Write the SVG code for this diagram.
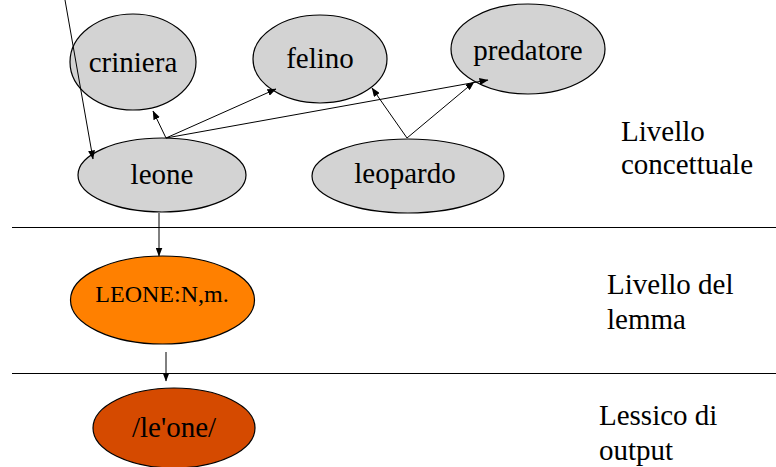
<svg xmlns="http://www.w3.org/2000/svg" width="776" height="467" viewBox="0 0 776 467">
<defs>
<marker id="ah" markerWidth="9" markerHeight="7" refX="8.5" refY="3.5" orient="auto" markerUnits="userSpaceOnUse">
<path d="M0,0 L9,3.5 L0,7 Z" fill="#000"/>
</marker>
</defs>
<style>
.n ellipse{fill:#d3d3d3;stroke:#000;stroke-width:1.2}
.t{font-family:'Liberation Serif','DejaVu Serif',serif;font-size:29px;fill:#000;text-anchor:middle}
.sm{font-size:24px}
.lab{font-family:'Liberation Serif','DejaVu Serif',serif;font-size:29px;fill:#000}
.c line{stroke:#000;stroke-width:1;marker-end:url(#ah)}
.sep{stroke:#000;stroke-width:1.2}
</style>
<rect width="776" height="467" fill="#fff"/>
<line class="sep" x1="12" y1="227.5" x2="776" y2="227.5"/>
<line class="sep" x1="12" y1="373.5" x2="776" y2="373.5"/>
<g id="criniera" class="n"><ellipse cx="133" cy="62" rx="63" ry="48"/><text class="t" x="133" y="72">criniera</text></g>
<g id="felino" class="n"><ellipse cx="320" cy="59" rx="67" ry="44"/><text class="t" x="320" y="68">felino</text></g>
<g id="predatore" class="n"><ellipse cx="528" cy="49" rx="77" ry="45"/><text class="t" x="528" y="60">predatore</text></g>
<g id="leone" class="n"><ellipse cx="162" cy="175" rx="84" ry="37"/><text class="t" x="162" y="184">leone</text></g>
<g id="leopardo" class="n"><ellipse cx="408" cy="176" rx="96" ry="37"/><text class="t" x="405" y="183">leopardo</text></g>
<g id="lemma"><ellipse cx="162.5" cy="300" rx="92" ry="44" fill="#ff8000" stroke="#000" stroke-width="1.2"/><text class="t sm" x="162" y="302">LEONE:N,m.</text></g>
<g id="output"><ellipse cx="174" cy="428" rx="81" ry="40" fill="#d54a00" stroke="#000" stroke-width="1.2"/><text class="t" x="174" y="437">/le'one/</text></g>
<g id="labels">
<text class="lab" x="621" y="141">Livello</text>
<text class="lab" x="621" y="174">concettuale</text>
<text class="lab" x="607" y="294">Livello del</text>
<text class="lab" x="607" y="329">lemma</text>
<text class="lab" x="599" y="425">Lessico di</text>
<text class="lab" x="599" y="460">output</text>
</g>
<g id="connectors" class="c">
<line x1="65" y1="0" x2="93" y2="159"/>
<line x1="166" y1="138" x2="153" y2="111"/>
<line x1="166" y1="138" x2="276" y2="89"/>
<line x1="166" y1="138" x2="488" y2="80"/>
<line x1="407" y1="138" x2="372" y2="88"/>
<line x1="407" y1="138" x2="474" y2="82"/>
<line x1="159" y1="213" x2="159" y2="256"/>
<line x1="166" y1="352" x2="166" y2="381"/>
</g>
</svg>
